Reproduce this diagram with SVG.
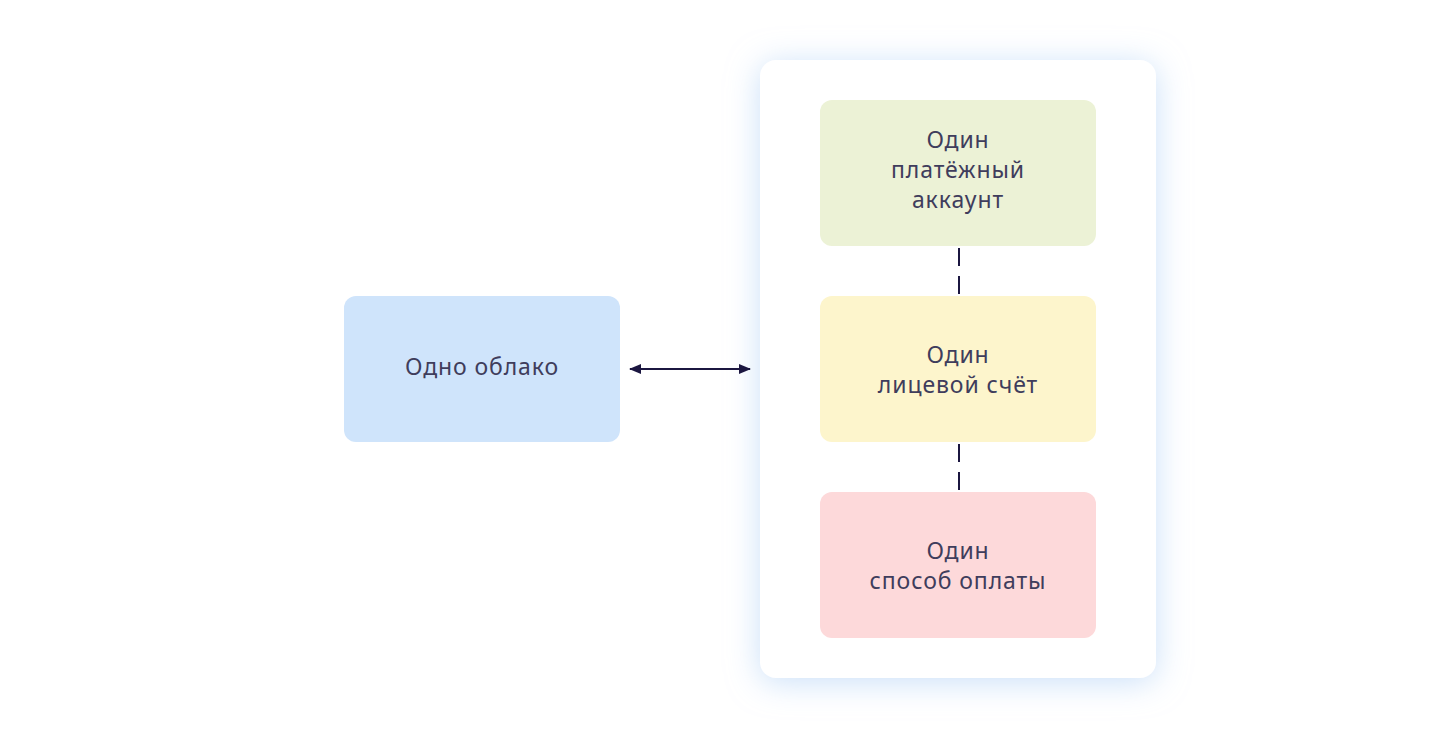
<svg xmlns="http://www.w3.org/2000/svg" width="1440" height="740" viewBox="0 0 1440 740">
<defs>
<filter id="shadow" x="-25%" y="-20%" width="150%" height="140%">
<feDropShadow dx="0" dy="4" stdDeviation="16" flood-color="#b3d2f6" flood-opacity="0.7"/>
</filter>
<marker id="arrow" viewBox="0 0 12 10" refX="11" refY="5" markerWidth="12" markerHeight="10" markerUnits="userSpaceOnUse" orient="auto-start-reverse">
<path d="M0,0 L12,5 L0,10 z" fill="#1b1640"/>
</marker>
</defs>
<style>
.t{font-family:"Noto Sans","Open Sans",sans-serif;font-size:23px;letter-spacing:0.9px;fill:#3f3d5c;text-anchor:middle}
.conn{stroke:#1b1640;stroke-width:2;fill:none}
</style>
<rect width="1440" height="740" fill="#ffffff"/>
<g id="card">
<rect x="760" y="60" width="396" height="618" rx="16" fill="#ffffff" filter="url(#shadow)"/>
</g>
<g id="cloud">
<rect x="344" y="296" width="276" height="146" rx="12" fill="#cfe4fb"/>
<text class="t" x="482" y="375">Одно облако</text>
</g>
<g id="billing-account">
<rect x="820" y="100" width="276" height="146" rx="12" fill="#ecf2d6"/>
<text class="t" x="958" y="148">Один</text>
<text class="t" x="958" y="178">платёжный</text>
<text class="t" x="958" y="208">аккаунт</text>
</g>
<g id="personal-account">
<rect x="820" y="296" width="276" height="146" rx="12" fill="#fdf5cc"/>
<text class="t" x="958" y="363">Один</text>
<text class="t" x="958" y="393">лицевой счёт</text>
</g>
<g id="payment-method">
<rect x="820" y="492" width="276" height="146" rx="12" fill="#fdd9da"/>
<text class="t" x="958" y="559">Один</text>
<text class="t" x="958" y="589">способ оплаты</text>
</g>
<g id="connectors">
<line class="conn" x1="630" y1="369" x2="750" y2="369" marker-start="url(#arrow)" marker-end="url(#arrow)"/>
<line class="conn" x1="959" y1="248" x2="959" y2="294" stroke-dasharray="18 10"/>
<line class="conn" x1="959" y1="444" x2="959" y2="490" stroke-dasharray="18 10"/>
</g>
</svg>
